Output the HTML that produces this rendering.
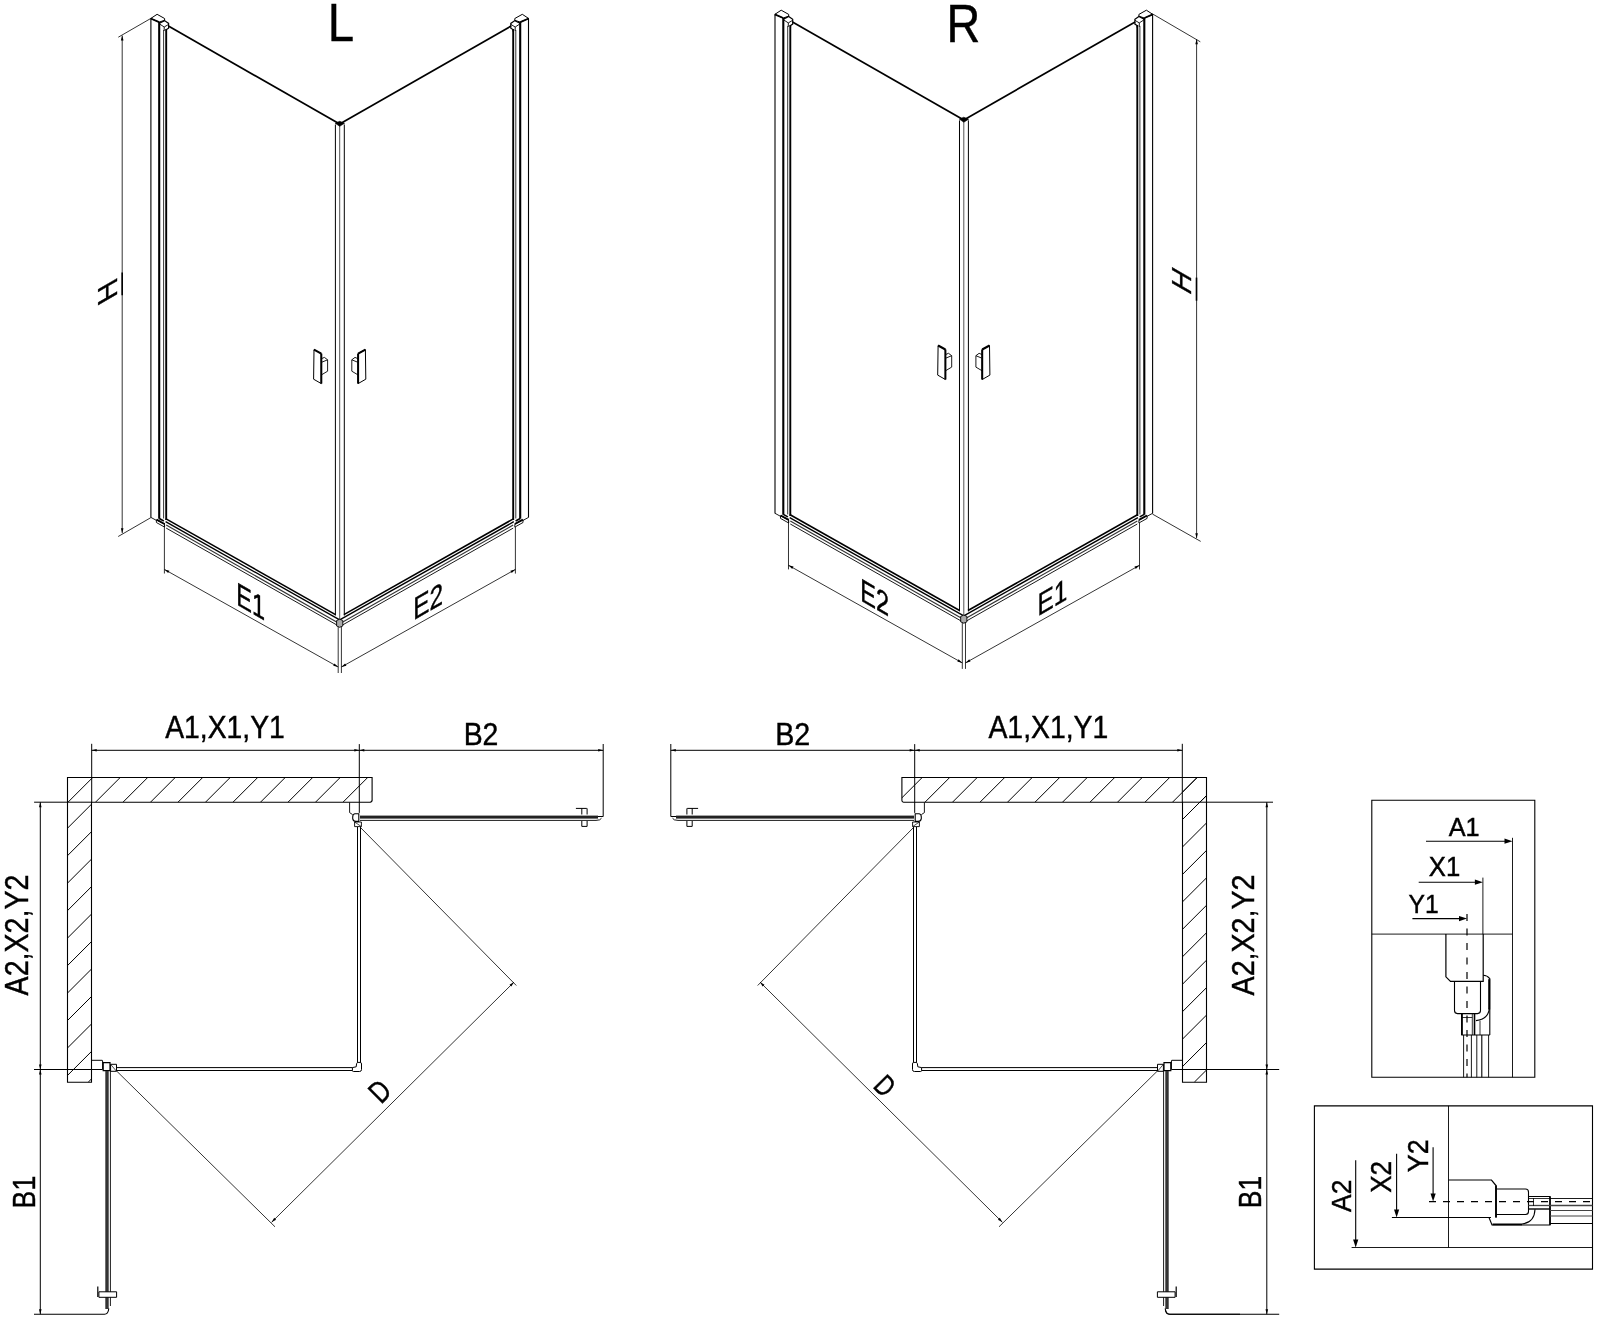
<!DOCTYPE html>
<html><head><meta charset="utf-8"><style>
html,body{margin:0;padding:0;background:#fff;}
svg{display:block;} text{filter:grayscale(1);}
</style></head><body>
<svg width="1600" height="1318" viewBox="0 0 1600 1318" stroke-linecap="butt">
<rect width="1600" height="1318" fill="#fff"/>
<g transform="translate(0,0)">
<line x1="150.9" y1="18.5" x2="150.9" y2="517.6" stroke="#000" stroke-width="1.1" />
<line x1="159.2" y1="22.1" x2="159.2" y2="518.8" stroke="#000" stroke-width="2.1" />
<line x1="163.6" y1="30" x2="163.6" y2="518.5" stroke="#000" stroke-width="0.8" />
<line x1="166.2" y1="29" x2="166.2" y2="520" stroke="#000" stroke-width="1.9" />
<path d="M150.7,18.5 L157.1,14.3 L164.6,18.5 L164.6,20.3 L159.1,22.1 Z" fill="none" stroke="#000" stroke-width="1.0" />
<line x1="150.7" y1="18.5" x2="159.1" y2="22.1" stroke="#000" stroke-width="1.7" />
<path d="M159.4,23.2 L164.6,20.6 L168.6,23.4 L168.6,28.2 L166.4,29.6 L166.4,31.5" fill="none" stroke="#000" stroke-width="1.2" />
<path d="M159.6,24 L164.2,27 L168.6,24.4 M164.2,27 L164.2,31" fill="none" stroke="#000" stroke-width="0.9" />
<line x1="150.9" y1="517.4" x2="156.4" y2="520.4" stroke="#000" stroke-width="0.9" />
<path d="M156.4,519.8 L164.6,524.3 L164.6,527.1 L156.4,522.5 Z" fill="none" stroke="#000" stroke-width="0.9" />
<line x1="156.6" y1="519.6" x2="164.6" y2="524" stroke="#000" stroke-width="1.8" />
<line x1="159.2" y1="518.5" x2="163.8" y2="521" stroke="#000" stroke-width="1.6" />
<g transform="matrix(-1,0,0,1,679.4,0)">
<line x1="150.9" y1="18.5" x2="150.9" y2="517.6" stroke="#000" stroke-width="1.1" />
<line x1="159.2" y1="22.1" x2="159.2" y2="518.8" stroke="#000" stroke-width="2.1" />
<line x1="163.6" y1="30" x2="163.6" y2="518.5" stroke="#000" stroke-width="0.8" />
<line x1="166.2" y1="29" x2="166.2" y2="520" stroke="#000" stroke-width="1.9" />
<path d="M150.7,18.5 L157.1,14.3 L164.6,18.5 L164.6,20.3 L159.1,22.1 Z" fill="none" stroke="#000" stroke-width="1.0" />
<line x1="150.7" y1="18.5" x2="159.1" y2="22.1" stroke="#000" stroke-width="1.7" />
<path d="M159.4,23.2 L164.6,20.6 L168.6,23.4 L168.6,28.2 L166.4,29.6 L166.4,31.5" fill="none" stroke="#000" stroke-width="1.2" />
<path d="M159.6,24 L164.2,27 L168.6,24.4 M164.2,27 L164.2,31" fill="none" stroke="#000" stroke-width="0.9" />
<line x1="150.9" y1="517.4" x2="156.4" y2="520.4" stroke="#000" stroke-width="0.9" />
<path d="M156.4,519.8 L164.6,524.3 L164.6,527.1 L156.4,522.5 Z" fill="none" stroke="#000" stroke-width="0.9" />
<line x1="156.6" y1="519.6" x2="164.6" y2="524" stroke="#000" stroke-width="1.8" />
<line x1="159.2" y1="518.5" x2="163.8" y2="521" stroke="#000" stroke-width="1.6" />
</g>
<line x1="168.4" y1="26.1" x2="339.7" y2="124" stroke="#000" stroke-width="1.7" />
<line x1="339.7" y1="124" x2="511" y2="26.1" stroke="#000" stroke-width="1.7" />
<line x1="335.4" y1="124.5" x2="335.4" y2="615.5" stroke="#000" stroke-width="1.0" />
<line x1="339.7" y1="125.5" x2="339.7" y2="619" stroke="#555" stroke-width="1.0" />
<line x1="344.3" y1="124.5" x2="344.3" y2="615.5" stroke="#000" stroke-width="1.0" />
<path d="M335.2,123.2 L339.7,121.3 L344.5,123.3 L339.7,126.3 Z" fill="#000" stroke="#000" stroke-width="0.6" />
<line x1="165.6" y1="518.6" x2="335.5" y2="614.6" stroke="#000" stroke-width="1.6" />
<line x1="165.6" y1="521.7" x2="339.7" y2="619.9" stroke="#000" stroke-width="1.4" />
<line x1="166.2" y1="525.1" x2="339.7" y2="623.7" stroke="#333" stroke-width="1.2" />
<line x1="166.2" y1="528.1" x2="339.7" y2="626.6" stroke="#000" stroke-width="0.9" />
<g transform="matrix(-1,0,0,1,679.4,0)">
<line x1="165.6" y1="518.6" x2="335.5" y2="614.6" stroke="#000" stroke-width="1.6" />
<line x1="165.6" y1="521.7" x2="339.7" y2="619.9" stroke="#000" stroke-width="1.4" />
<line x1="166.2" y1="525.1" x2="339.7" y2="623.7" stroke="#333" stroke-width="1.2" />
<line x1="166.2" y1="528.1" x2="339.7" y2="626.6" stroke="#000" stroke-width="0.9" />
</g>
<path d="M336.6,620.5 L339.7,619.2 L342.8,620.5 L342.8,626 L339.7,627.3 L336.6,626 Z" fill="#aaa" stroke="#000" stroke-width="0.9" />
<line x1="338.2" y1="627" x2="338.2" y2="673" stroke="#000" stroke-width="0.8" />
<line x1="341.4" y1="627" x2="341.4" y2="673" stroke="#000" stroke-width="0.8" />
<line x1="164.4" y1="523" x2="164.4" y2="573.5" stroke="#000" stroke-width="0.8" />
<line x1="515.4" y1="527" x2="515.4" y2="573.6" stroke="#000" stroke-width="0.8" />
<line x1="164.4" y1="569.4" x2="338.2" y2="667" stroke="#000" stroke-width="0.8" />
<path d="M164.4,569.4 L169.4,570.71 L168.12,572.98 Z" fill="#000" stroke="none"/>
<path d="M338.2,667 L333.2,665.69 L334.48,663.42 Z" fill="#000" stroke="none"/>
<line x1="341.4" y1="667" x2="515.4" y2="569.4" stroke="#000" stroke-width="0.8" />
<path d="M341.4,667 L345.12,663.42 L346.4,665.69 Z" fill="#000" stroke="none"/>
<path d="M515.4,569.4 L511.68,572.98 L510.4,570.71 Z" fill="#000" stroke="none"/>
<path d="M314,349.6 L321.3,353.6 L321.3,383.6 L313.6,379.2 Z" fill="none" stroke="#000" stroke-width="1.0" />
<line x1="314" y1="349.6" x2="321.3" y2="353.6" stroke="#000" stroke-width="2.0" />
<line x1="321.3" y1="353.6" x2="321.3" y2="383.6" stroke="#000" stroke-width="2.0" />
<path d="M321.6,358.6 L324.4,357.4 L327.6,359.8 L327.6,371.2 L321.4,374.9" fill="none" stroke="#000" stroke-width="0.9" />
<line x1="321.8" y1="362.2" x2="327.6" y2="359.8" stroke="#000" stroke-width="0.9" />
<g transform="matrix(-1,0,0,1,679.4,0)">
<path d="M314,349.6 L321.3,353.6 L321.3,383.6 L313.6,379.2 Z" fill="none" stroke="#000" stroke-width="1.0" />
<line x1="314" y1="349.6" x2="321.3" y2="353.6" stroke="#000" stroke-width="2.0" />
<line x1="321.3" y1="353.6" x2="321.3" y2="383.6" stroke="#000" stroke-width="2.0" />
<path d="M321.6,358.6 L324.4,357.4 L327.6,359.8 L327.6,371.2 L321.4,374.9" fill="none" stroke="#000" stroke-width="0.9" />
<line x1="321.8" y1="362.2" x2="327.6" y2="359.8" stroke="#000" stroke-width="0.9" />
</g>
<line x1="118.3" y1="37.2" x2="150.7" y2="18.5" stroke="#000" stroke-width="0.8" />
<line x1="118.2" y1="536.5" x2="150.9" y2="517.6" stroke="#000" stroke-width="0.8" />
<line x1="122.2" y1="35.6" x2="122.2" y2="533.2" stroke="#000" stroke-width="0.8" />
<path d="M122.2,35.6 L123.5,40.6 L120.9,40.6 Z" fill="#000" stroke="none"/>
<path d="M122.2,533.2 L120.9,528.2 L123.5,528.2 Z" fill="#000" stroke="none"/>
<line x1="122.2" y1="272.5" x2="122.2" y2="295.3" stroke="#000" stroke-width="1.6" />
</g>
<g transform="translate(624.1,-4.1)">
<line x1="150.9" y1="18.5" x2="150.9" y2="517.6" stroke="#000" stroke-width="1.1" />
<line x1="159.2" y1="22.1" x2="159.2" y2="518.8" stroke="#000" stroke-width="2.1" />
<line x1="163.6" y1="30" x2="163.6" y2="518.5" stroke="#000" stroke-width="0.8" />
<line x1="166.2" y1="29" x2="166.2" y2="520" stroke="#000" stroke-width="1.9" />
<path d="M150.7,18.5 L157.1,14.3 L164.6,18.5 L164.6,20.3 L159.1,22.1 Z" fill="none" stroke="#000" stroke-width="1.0" />
<line x1="150.7" y1="18.5" x2="159.1" y2="22.1" stroke="#000" stroke-width="1.7" />
<path d="M159.4,23.2 L164.6,20.6 L168.6,23.4 L168.6,28.2 L166.4,29.6 L166.4,31.5" fill="none" stroke="#000" stroke-width="1.2" />
<path d="M159.6,24 L164.2,27 L168.6,24.4 M164.2,27 L164.2,31" fill="none" stroke="#000" stroke-width="0.9" />
<line x1="150.9" y1="517.4" x2="156.4" y2="520.4" stroke="#000" stroke-width="0.9" />
<path d="M156.4,519.8 L164.6,524.3 L164.6,527.1 L156.4,522.5 Z" fill="none" stroke="#000" stroke-width="0.9" />
<line x1="156.6" y1="519.6" x2="164.6" y2="524" stroke="#000" stroke-width="1.8" />
<line x1="159.2" y1="518.5" x2="163.8" y2="521" stroke="#000" stroke-width="1.6" />
<g transform="matrix(-1,0,0,1,679.4,0)">
<line x1="150.9" y1="18.5" x2="150.9" y2="517.6" stroke="#000" stroke-width="1.1" />
<line x1="159.2" y1="22.1" x2="159.2" y2="518.8" stroke="#000" stroke-width="2.1" />
<line x1="163.6" y1="30" x2="163.6" y2="518.5" stroke="#000" stroke-width="0.8" />
<line x1="166.2" y1="29" x2="166.2" y2="520" stroke="#000" stroke-width="1.9" />
<path d="M150.7,18.5 L157.1,14.3 L164.6,18.5 L164.6,20.3 L159.1,22.1 Z" fill="none" stroke="#000" stroke-width="1.0" />
<line x1="150.7" y1="18.5" x2="159.1" y2="22.1" stroke="#000" stroke-width="1.7" />
<path d="M159.4,23.2 L164.6,20.6 L168.6,23.4 L168.6,28.2 L166.4,29.6 L166.4,31.5" fill="none" stroke="#000" stroke-width="1.2" />
<path d="M159.6,24 L164.2,27 L168.6,24.4 M164.2,27 L164.2,31" fill="none" stroke="#000" stroke-width="0.9" />
<line x1="150.9" y1="517.4" x2="156.4" y2="520.4" stroke="#000" stroke-width="0.9" />
<path d="M156.4,519.8 L164.6,524.3 L164.6,527.1 L156.4,522.5 Z" fill="none" stroke="#000" stroke-width="0.9" />
<line x1="156.6" y1="519.6" x2="164.6" y2="524" stroke="#000" stroke-width="1.8" />
<line x1="159.2" y1="518.5" x2="163.8" y2="521" stroke="#000" stroke-width="1.6" />
</g>
<line x1="168.4" y1="26.1" x2="339.7" y2="124" stroke="#000" stroke-width="1.7" />
<line x1="339.7" y1="124" x2="511" y2="26.1" stroke="#000" stroke-width="1.7" />
<line x1="335.4" y1="124.5" x2="335.4" y2="615.5" stroke="#000" stroke-width="1.0" />
<line x1="339.7" y1="125.5" x2="339.7" y2="619" stroke="#555" stroke-width="1.0" />
<line x1="344.3" y1="124.5" x2="344.3" y2="615.5" stroke="#000" stroke-width="1.0" />
<path d="M335.2,123.2 L339.7,121.3 L344.5,123.3 L339.7,126.3 Z" fill="#000" stroke="#000" stroke-width="0.6" />
<line x1="165.6" y1="518.6" x2="335.5" y2="614.6" stroke="#000" stroke-width="1.6" />
<line x1="165.6" y1="521.7" x2="339.7" y2="619.9" stroke="#000" stroke-width="1.4" />
<line x1="166.2" y1="525.1" x2="339.7" y2="623.7" stroke="#333" stroke-width="1.2" />
<line x1="166.2" y1="528.1" x2="339.7" y2="626.6" stroke="#000" stroke-width="0.9" />
<g transform="matrix(-1,0,0,1,679.4,0)">
<line x1="165.6" y1="518.6" x2="335.5" y2="614.6" stroke="#000" stroke-width="1.6" />
<line x1="165.6" y1="521.7" x2="339.7" y2="619.9" stroke="#000" stroke-width="1.4" />
<line x1="166.2" y1="525.1" x2="339.7" y2="623.7" stroke="#333" stroke-width="1.2" />
<line x1="166.2" y1="528.1" x2="339.7" y2="626.6" stroke="#000" stroke-width="0.9" />
</g>
<path d="M336.6,620.5 L339.7,619.2 L342.8,620.5 L342.8,626 L339.7,627.3 L336.6,626 Z" fill="#aaa" stroke="#000" stroke-width="0.9" />
<line x1="338.2" y1="627" x2="338.2" y2="673" stroke="#000" stroke-width="0.8" />
<line x1="341.4" y1="627" x2="341.4" y2="673" stroke="#000" stroke-width="0.8" />
<line x1="164.4" y1="523" x2="164.4" y2="573.5" stroke="#000" stroke-width="0.8" />
<line x1="515.4" y1="527" x2="515.4" y2="573.6" stroke="#000" stroke-width="0.8" />
<line x1="164.4" y1="569.4" x2="338.2" y2="667" stroke="#000" stroke-width="0.8" />
<path d="M164.4,569.4 L169.4,570.71 L168.12,572.98 Z" fill="#000" stroke="none"/>
<path d="M338.2,667 L333.2,665.69 L334.48,663.42 Z" fill="#000" stroke="none"/>
<line x1="341.4" y1="667" x2="515.4" y2="569.4" stroke="#000" stroke-width="0.8" />
<path d="M341.4,667 L345.12,663.42 L346.4,665.69 Z" fill="#000" stroke="none"/>
<path d="M515.4,569.4 L511.68,572.98 L510.4,570.71 Z" fill="#000" stroke="none"/>
<path d="M314,349.6 L321.3,353.6 L321.3,383.6 L313.6,379.2 Z" fill="none" stroke="#000" stroke-width="1.0" />
<line x1="314" y1="349.6" x2="321.3" y2="353.6" stroke="#000" stroke-width="2.0" />
<line x1="321.3" y1="353.6" x2="321.3" y2="383.6" stroke="#000" stroke-width="2.0" />
<path d="M321.6,358.6 L324.4,357.4 L327.6,359.8 L327.6,371.2 L321.4,374.9" fill="none" stroke="#000" stroke-width="0.9" />
<line x1="321.8" y1="362.2" x2="327.6" y2="359.8" stroke="#000" stroke-width="0.9" />
<g transform="matrix(-1,0,0,1,679.4,0)">
<path d="M314,349.6 L321.3,353.6 L321.3,383.6 L313.6,379.2 Z" fill="none" stroke="#000" stroke-width="1.0" />
<line x1="314" y1="349.6" x2="321.3" y2="353.6" stroke="#000" stroke-width="2.0" />
<line x1="321.3" y1="353.6" x2="321.3" y2="383.6" stroke="#000" stroke-width="2.0" />
<path d="M321.6,358.6 L324.4,357.4 L327.6,359.8 L327.6,371.2 L321.4,374.9" fill="none" stroke="#000" stroke-width="0.9" />
<line x1="321.8" y1="362.2" x2="327.6" y2="359.8" stroke="#000" stroke-width="0.9" />
</g>
<line x1="528.4" y1="18" x2="576.2" y2="45.9" stroke="#000" stroke-width="0.8" />
<line x1="528.4" y1="518.2" x2="576.6" y2="545.5" stroke="#000" stroke-width="0.8" />
<line x1="572.5" y1="43.4" x2="572.5" y2="542.3" stroke="#000" stroke-width="0.8" />
<path d="M572.5,43.4 L573.8,48.4 L571.2,48.4 Z" fill="#000" stroke="none"/>
<path d="M572.5,542.3 L571.2,537.3 L573.8,537.3 Z" fill="#000" stroke="none"/>
<line x1="572.4" y1="281.7" x2="572.4" y2="304.8" stroke="#000" stroke-width="1.6" />
</g>
<path d="M67.5,777.5 H372.1 V800.6 Q372.1,802.2 370.5,802.2 H91.5 V1082.2 H67.5 Z" fill="none" stroke="#000" stroke-width="1.1" />
<path d="M349.6,802.4 V812.6 L352.6,814.6" fill="none" stroke="#000" stroke-width="0.9" />
<path d="M358.8,813.8 H354.8 Q352.7,814.2 352.7,817 V818.6 Q353.2,821.4 355.8,821.4 H358.8 Z" fill="none" stroke="#000" stroke-width="1.1" />
<path d="M354.6,822 H361.4 V826.6 H354.6 Z" fill="none" stroke="#000" stroke-width="0.9" />
<line x1="354.6" y1="822" x2="361.4" y2="826.6" stroke="#000" stroke-width="0.7" />
<rect x="360" y="815.6" width="238" height="3.0" fill="#222"/>
<path d="M360,820.4 H596 Q600.5,820.4 601.5,818.2" fill="none" stroke="#000" stroke-width="0.9" />
<path d="M598,816.5 L603.2,816.5" fill="none" stroke="#000" stroke-width="1.0" />
<path d="M575.9,808.4 H586.8 M581.8,808.4 V814.5 M587.1,808.4 V814.5 M581.8,821 V826.4 H587.1 V821" fill="none" stroke="#000" stroke-width="1.0" />
<line x1="357.5" y1="827" x2="357.5" y2="1062.4" stroke="#000" stroke-width="1.0" />
<line x1="360.5" y1="827" x2="360.5" y2="1062.4" stroke="#000" stroke-width="1.0" />
<path d="M352.4,1067.6 L356.2,1066.8 L356.6,1063.6 Q357,1062.4 358,1062.4 H360.2 Q361.5,1062.4 361.5,1064 V1069.6 Q361.5,1071.5 359.6,1071.5 H353.4 Q352.4,1071.5 352.4,1070.5 Z" fill="none" stroke="#000" stroke-width="1.0" />
<line x1="116.5" y1="1067.6" x2="352.4" y2="1067.6" stroke="#000" stroke-width="1.0" />
<line x1="116.5" y1="1070.5" x2="352.4" y2="1070.5" stroke="#000" stroke-width="1.0" />
<path d="M91.6,1060.3 H102.2 Q102.6,1060.3 102.6,1061 V1069.5" fill="none" stroke="#000" stroke-width="1.0" />
<path d="M103.2,1062.6 H110 V1070.6 H103.2 Z" fill="none" stroke="#000" stroke-width="1.2" />
<path d="M110.6,1064.3 H116.5 V1071.3 H110.6 Z" fill="none" stroke="#000" stroke-width="1.0" />
<line x1="110.6" y1="1064.3" x2="116.5" y2="1071.3" stroke="#000" stroke-width="0.7" />
<rect x="105.3" y="1071" width="3.4" height="238" fill="#333"/>
<line x1="110.4" y1="1071" x2="110.4" y2="1306" stroke="#000" stroke-width="0.9" />
<path d="M98.9,1291.8 H116.6 V1297.3 H98.9 Z" fill="#fff" stroke="#000" stroke-width="1.0" />
<line x1="97.8" y1="1286.4" x2="97.8" y2="1297" stroke="#000" stroke-width="1.2" />
<path d="M34,1314.2 H104.5 Q108.2,1314.2 108.8,1308.5" fill="none" stroke="#000" stroke-width="1.1" />
<line x1="360.5" y1="827.5" x2="516.3" y2="985.5" stroke="#000" stroke-width="0.8" />
<line x1="116.8" y1="1071.2" x2="275" y2="1226.8" stroke="#000" stroke-width="0.8" />
<line x1="271.6" y1="1222.3" x2="514" y2="982.1" stroke="#000" stroke-width="0.8" />
<path d="M271.6,1222.3 L274.24,1217.86 L276.07,1219.7 Z" fill="#000" stroke="none"/>
<path d="M514,982.1 L511.36,986.54 L509.53,984.7 Z" fill="#000" stroke="none"/>
<line x1="91.7" y1="743.8" x2="91.7" y2="802.2" stroke="#000" stroke-width="1.0" />
<line x1="359.3" y1="744.1" x2="359.3" y2="812.9" stroke="#000" stroke-width="1.0" />
<line x1="603.2" y1="744" x2="603.2" y2="816.5" stroke="#000" stroke-width="1.0" />
<line x1="91.7" y1="750.3" x2="359.3" y2="750.3" stroke="#000" stroke-width="1.0" />
<path d="M91.7,750.3 L96.7,749 L96.7,751.6 Z" fill="#000" stroke="none"/>
<path d="M359.3,750.3 L354.3,751.6 L354.3,749 Z" fill="#000" stroke="none"/>
<line x1="359.3" y1="750.3" x2="603.2" y2="750.3" stroke="#000" stroke-width="1.0" />
<path d="M359.3,750.3 L364.3,749 L364.3,751.6 Z" fill="#000" stroke="none"/>
<path d="M603.2,750.3 L598.2,751.6 L598.2,749 Z" fill="#000" stroke="none"/>
<line x1="34.1" y1="802.2" x2="91.5" y2="802.2" stroke="#000" stroke-width="1.0" />
<line x1="34" y1="1069.5" x2="102.6" y2="1069.5" stroke="#000" stroke-width="1.0" />
<line x1="40.3" y1="802.2" x2="40.3" y2="1069.5" stroke="#000" stroke-width="1.0" />
<path d="M40.3,802.2 L41.6,807.2 L39,807.2 Z" fill="#000" stroke="none"/>
<path d="M40.3,1069.5 L39,1064.5 L41.6,1064.5 Z" fill="#000" stroke="none"/>
<line x1="40.3" y1="1069.5" x2="40.3" y2="1314.2" stroke="#000" stroke-width="1.0" />
<path d="M40.3,1069.5 L41.6,1074.5 L39,1074.5 Z" fill="#000" stroke="none"/>
<path d="M40.3,1314.2 L39,1309.2 L41.6,1309.2 Z" fill="#000" stroke="none"/>
<clipPath id="h1"><rect x="67.5" y="777.5" width="304.6" height="24.7"/></clipPath>
<g clip-path="url(#h1)">
<line x1="68" y1="802.2" x2="92.7" y2="777.5" stroke="#000" stroke-width="1.0" />
<line x1="95.5" y1="802.2" x2="120.2" y2="777.5" stroke="#000" stroke-width="1.0" />
<line x1="123" y1="802.2" x2="147.7" y2="777.5" stroke="#000" stroke-width="1.0" />
<line x1="150.5" y1="802.2" x2="175.2" y2="777.5" stroke="#000" stroke-width="1.0" />
<line x1="178" y1="802.2" x2="202.7" y2="777.5" stroke="#000" stroke-width="1.0" />
<line x1="205.5" y1="802.2" x2="230.2" y2="777.5" stroke="#000" stroke-width="1.0" />
<line x1="233" y1="802.2" x2="257.7" y2="777.5" stroke="#000" stroke-width="1.0" />
<line x1="260.5" y1="802.2" x2="285.2" y2="777.5" stroke="#000" stroke-width="1.0" />
<line x1="288" y1="802.2" x2="312.7" y2="777.5" stroke="#000" stroke-width="1.0" />
<line x1="315.5" y1="802.2" x2="340.2" y2="777.5" stroke="#000" stroke-width="1.0" />
<line x1="343" y1="802.2" x2="367.7" y2="777.5" stroke="#000" stroke-width="1.0" />
<line x1="370.5" y1="802.2" x2="395.2" y2="777.5" stroke="#000" stroke-width="1.0" />
<line x1="398" y1="802.2" x2="422.7" y2="777.5" stroke="#000" stroke-width="1.0" />
</g>
<clipPath id="h2"><rect x="67.5" y="802.2" width="24" height="280"/></clipPath>
<g clip-path="url(#h2)">
<line x1="-186.5" y1="1082.2" x2="93.5" y2="802.2" stroke="#000" stroke-width="1.0" />
<line x1="-159.03" y1="1082.2" x2="120.97" y2="802.2" stroke="#000" stroke-width="1.0" />
<line x1="-131.56" y1="1082.2" x2="148.44" y2="802.2" stroke="#000" stroke-width="1.0" />
<line x1="-104.09" y1="1082.2" x2="175.91" y2="802.2" stroke="#000" stroke-width="1.0" />
<line x1="-76.62" y1="1082.2" x2="203.38" y2="802.2" stroke="#000" stroke-width="1.0" />
<line x1="-49.15" y1="1082.2" x2="230.85" y2="802.2" stroke="#000" stroke-width="1.0" />
<line x1="-21.68" y1="1082.2" x2="258.32" y2="802.2" stroke="#000" stroke-width="1.0" />
<line x1="5.79" y1="1082.2" x2="285.79" y2="802.2" stroke="#000" stroke-width="1.0" />
<line x1="33.26" y1="1082.2" x2="313.26" y2="802.2" stroke="#000" stroke-width="1.0" />
<line x1="60.73" y1="1082.2" x2="340.73" y2="802.2" stroke="#000" stroke-width="1.0" />
<line x1="88.2" y1="1082.2" x2="368.2" y2="802.2" stroke="#000" stroke-width="1.0" />
<line x1="115.67" y1="1082.2" x2="395.67" y2="802.2" stroke="#000" stroke-width="1.0" />
</g>
<g transform="matrix(-1,0,0,1,1274.0,0)">
<path d="M67.5,777.5 H372.1 V800.6 Q372.1,802.2 370.5,802.2 H91.5 V1082.2 H67.5 Z" fill="none" stroke="#000" stroke-width="1.1" />
<path d="M349.6,802.4 V812.6 L352.6,814.6" fill="none" stroke="#000" stroke-width="0.9" />
<path d="M358.8,813.8 H354.8 Q352.7,814.2 352.7,817 V818.6 Q353.2,821.4 355.8,821.4 H358.8 Z" fill="none" stroke="#000" stroke-width="1.1" />
<path d="M354.6,822 H361.4 V826.6 H354.6 Z" fill="none" stroke="#000" stroke-width="0.9" />
<line x1="354.6" y1="822" x2="361.4" y2="826.6" stroke="#000" stroke-width="0.7" />
<rect x="360" y="815.6" width="238" height="3.0" fill="#222"/>
<path d="M360,820.4 H596 Q600.5,820.4 601.5,818.2" fill="none" stroke="#000" stroke-width="0.9" />
<path d="M598,816.5 L603.2,816.5" fill="none" stroke="#000" stroke-width="1.0" />
<path d="M575.9,808.4 H586.8 M581.8,808.4 V814.5 M587.1,808.4 V814.5 M581.8,821 V826.4 H587.1 V821" fill="none" stroke="#000" stroke-width="1.0" />
<line x1="357.5" y1="827" x2="357.5" y2="1062.4" stroke="#000" stroke-width="1.0" />
<line x1="360.5" y1="827" x2="360.5" y2="1062.4" stroke="#000" stroke-width="1.0" />
<path d="M352.4,1067.6 L356.2,1066.8 L356.6,1063.6 Q357,1062.4 358,1062.4 H360.2 Q361.5,1062.4 361.5,1064 V1069.6 Q361.5,1071.5 359.6,1071.5 H353.4 Q352.4,1071.5 352.4,1070.5 Z" fill="none" stroke="#000" stroke-width="1.0" />
<line x1="116.5" y1="1067.6" x2="352.4" y2="1067.6" stroke="#000" stroke-width="1.0" />
<line x1="116.5" y1="1070.5" x2="352.4" y2="1070.5" stroke="#000" stroke-width="1.0" />
<path d="M91.6,1060.3 H102.2 Q102.6,1060.3 102.6,1061 V1069.5" fill="none" stroke="#000" stroke-width="1.0" />
<path d="M103.2,1062.6 H110 V1070.6 H103.2 Z" fill="none" stroke="#000" stroke-width="1.2" />
<path d="M110.6,1064.3 H116.5 V1071.3 H110.6 Z" fill="none" stroke="#000" stroke-width="1.0" />
<line x1="110.6" y1="1064.3" x2="116.5" y2="1071.3" stroke="#000" stroke-width="0.7" />
<rect x="105.3" y="1071" width="3.4" height="238" fill="#333"/>
<line x1="110.4" y1="1071" x2="110.4" y2="1306" stroke="#000" stroke-width="0.9" />
<path d="M98.9,1291.8 H116.6 V1297.3 H98.9 Z" fill="#fff" stroke="#000" stroke-width="1.0" />
<line x1="97.8" y1="1286.4" x2="97.8" y2="1297" stroke="#000" stroke-width="1.2" />
<path d="M34,1314.2 H104.5 Q108.2,1314.2 108.8,1308.5" fill="none" stroke="#000" stroke-width="1.1" />
<line x1="360.5" y1="827.5" x2="516.3" y2="985.5" stroke="#000" stroke-width="0.8" />
<line x1="116.8" y1="1071.2" x2="275" y2="1226.8" stroke="#000" stroke-width="0.8" />
<line x1="271.6" y1="1222.3" x2="514" y2="982.1" stroke="#000" stroke-width="0.8" />
<path d="M271.6,1222.3 L274.24,1217.86 L276.07,1219.7 Z" fill="#000" stroke="none"/>
<path d="M514,982.1 L511.36,986.54 L509.53,984.7 Z" fill="#000" stroke="none"/>
<line x1="91.7" y1="743.8" x2="91.7" y2="802.2" stroke="#000" stroke-width="1.0" />
<line x1="359.3" y1="744.1" x2="359.3" y2="812.9" stroke="#000" stroke-width="1.0" />
<line x1="603.2" y1="744" x2="603.2" y2="816.5" stroke="#000" stroke-width="1.0" />
<line x1="91.7" y1="750.3" x2="359.3" y2="750.3" stroke="#000" stroke-width="1.0" />
<path d="M91.7,750.3 L96.7,749 L96.7,751.6 Z" fill="#000" stroke="none"/>
<path d="M359.3,750.3 L354.3,751.6 L354.3,749 Z" fill="#000" stroke="none"/>
<line x1="359.3" y1="750.3" x2="603.2" y2="750.3" stroke="#000" stroke-width="1.0" />
<path d="M359.3,750.3 L364.3,749 L364.3,751.6 Z" fill="#000" stroke="none"/>
<path d="M603.2,750.3 L598.2,751.6 L598.2,749 Z" fill="#000" stroke="none"/>
</g>
<line x1="1182.5" y1="802.2" x2="1273" y2="802.2" stroke="#000" stroke-width="1.0" />
<line x1="1171.4" y1="1069.5" x2="1279.2" y2="1069.5" stroke="#000" stroke-width="1.0" />
<path d="M1279.2,1314.2 H1170 Q1166.2,1314.2 1165.4,1309.8" fill="none" stroke="#000" stroke-width="1.1" />
<line x1="1266.8" y1="802.2" x2="1266.8" y2="1069.5" stroke="#000" stroke-width="1.0" />
<path d="M1266.8,802.2 L1268.1,807.2 L1265.5,807.2 Z" fill="#000" stroke="none"/>
<path d="M1266.8,1069.5 L1265.5,1064.5 L1268.1,1064.5 Z" fill="#000" stroke="none"/>
<line x1="1266.8" y1="1069.5" x2="1266.8" y2="1314.2" stroke="#000" stroke-width="1.0" />
<path d="M1266.8,1069.5 L1268.1,1074.5 L1265.5,1074.5 Z" fill="#000" stroke="none"/>
<path d="M1266.8,1314.2 L1265.5,1309.2 L1268.1,1309.2 Z" fill="#000" stroke="none"/>
<clipPath id="h3"><rect x="901.9" y="777.5" width="304.6" height="24.7"/></clipPath>
<g clip-path="url(#h3)">
<line x1="897.5" y1="802.2" x2="922.2" y2="777.5" stroke="#000" stroke-width="1.0" />
<line x1="925" y1="802.2" x2="949.7" y2="777.5" stroke="#000" stroke-width="1.0" />
<line x1="952.5" y1="802.2" x2="977.2" y2="777.5" stroke="#000" stroke-width="1.0" />
<line x1="980" y1="802.2" x2="1004.7" y2="777.5" stroke="#000" stroke-width="1.0" />
<line x1="1007.5" y1="802.2" x2="1032.2" y2="777.5" stroke="#000" stroke-width="1.0" />
<line x1="1035" y1="802.2" x2="1059.7" y2="777.5" stroke="#000" stroke-width="1.0" />
<line x1="1062.5" y1="802.2" x2="1087.2" y2="777.5" stroke="#000" stroke-width="1.0" />
<line x1="1090" y1="802.2" x2="1114.7" y2="777.5" stroke="#000" stroke-width="1.0" />
<line x1="1117.5" y1="802.2" x2="1142.2" y2="777.5" stroke="#000" stroke-width="1.0" />
<line x1="1145" y1="802.2" x2="1169.7" y2="777.5" stroke="#000" stroke-width="1.0" />
<line x1="1172.5" y1="802.2" x2="1197.2" y2="777.5" stroke="#000" stroke-width="1.0" />
<line x1="1200" y1="802.2" x2="1224.7" y2="777.5" stroke="#000" stroke-width="1.0" />
<line x1="1227.5" y1="802.2" x2="1252.2" y2="777.5" stroke="#000" stroke-width="1.0" />
</g>
<clipPath id="h4"><rect x="1182.5" y="777.5" width="24" height="304.7"/></clipPath>
<g clip-path="url(#h4)">
<line x1="892.35" y1="1082.2" x2="1197.05" y2="777.5" stroke="#000" stroke-width="1.0" />
<line x1="919.8" y1="1082.2" x2="1224.5" y2="777.5" stroke="#000" stroke-width="1.0" />
<line x1="947.25" y1="1082.2" x2="1251.95" y2="777.5" stroke="#000" stroke-width="1.0" />
<line x1="974.7" y1="1082.2" x2="1279.4" y2="777.5" stroke="#000" stroke-width="1.0" />
<line x1="1002.15" y1="1082.2" x2="1306.85" y2="777.5" stroke="#000" stroke-width="1.0" />
<line x1="1029.6" y1="1082.2" x2="1334.3" y2="777.5" stroke="#000" stroke-width="1.0" />
<line x1="1057.05" y1="1082.2" x2="1361.75" y2="777.5" stroke="#000" stroke-width="1.0" />
<line x1="1084.5" y1="1082.2" x2="1389.2" y2="777.5" stroke="#000" stroke-width="1.0" />
<line x1="1111.95" y1="1082.2" x2="1416.65" y2="777.5" stroke="#000" stroke-width="1.0" />
<line x1="1139.4" y1="1082.2" x2="1444.1" y2="777.5" stroke="#000" stroke-width="1.0" />
<line x1="1166.85" y1="1082.2" x2="1471.55" y2="777.5" stroke="#000" stroke-width="1.0" />
<line x1="1194.3" y1="1082.2" x2="1499" y2="777.5" stroke="#000" stroke-width="1.0" />
<line x1="1221.75" y1="1082.2" x2="1526.45" y2="777.5" stroke="#000" stroke-width="1.0" />
</g>
<path d="M1371.8,800.2 H1534.8 V1077.3 H1371.8 Z" fill="none" stroke="#000" stroke-width="1.1" />
<line x1="1371.8" y1="934.1" x2="1512.5" y2="934.1" stroke="#000" stroke-width="0.9" />
<line x1="1512.5" y1="837.8" x2="1512.5" y2="1077.3" stroke="#000" stroke-width="0.9" />
<line x1="1426" y1="841.2" x2="1507" y2="841.2" stroke="#000" stroke-width="1.1" />
<path d="M1512.5,841.2 L1504.5,843.8 L1504.5,838.6 Z" fill="#000" stroke="none"/>
<line x1="1482.9" y1="877.6" x2="1482.9" y2="934.1" stroke="#000" stroke-width="0.9" />
<line x1="1418.7" y1="882.2" x2="1477" y2="882.2" stroke="#000" stroke-width="1.1" />
<path d="M1482.9,882.2 L1474.9,884.8 L1474.9,879.6 Z" fill="#000" stroke="none"/>
<line x1="1467" y1="914" x2="1467" y2="1077.3" stroke="#000" stroke-width="1.2" stroke-dasharray="7,7.5"/>
<line x1="1412.4" y1="918.6" x2="1461" y2="918.6" stroke="#000" stroke-width="1.1" />
<path d="M1467,918.6 L1459,921.2 L1459,916 Z" fill="#000" stroke="none"/>
<path d="M1445.9,934.1 V976.8 L1450.5,981.4 H1483.2 V934.1" fill="none" stroke="#000" stroke-width="1.2" />
<path d="M1454.5,981.4 V1010.6 Q1454.5,1013.6 1457.5,1013.6 H1477.5 Q1480.5,1013.6 1480.5,1010.6 V981.4" fill="none" stroke="#000" stroke-width="1.1" />
<path d="M1483.2,975.3 Q1487.2,975.3 1489.8,978.6 V1035" fill="none" stroke="#000" stroke-width="1.1" />
<line x1="1489.2" y1="979.2" x2="1489.2" y2="1009.5" stroke="#000" stroke-width="2.0" />
<path d="M1489.5,1007.5 Q1488.5,1019.5 1475.9,1020.6" fill="none" stroke="#000" stroke-width="1.1" />
<path d="M1461.8,1013.6 V1035 H1489.8" fill="none" stroke="#000" stroke-width="1.1" />
<line x1="1461.9" y1="1013.6" x2="1461.9" y2="1035" stroke="#000" stroke-width="1.8" />
<line x1="1474.5" y1="1013.6" x2="1474.5" y2="1035" stroke="#000" stroke-width="1.6" />
<line x1="1472.3" y1="1013.6" x2="1472.3" y2="1035" stroke="#000" stroke-width="0.8" />
<line x1="1480" y1="1020.6" x2="1480" y2="1035" stroke="#000" stroke-width="0.8" />
<line x1="1461.8" y1="1017.5" x2="1472.3" y2="1017.5" stroke="#000" stroke-width="0.8" />
<line x1="1463.6" y1="1035" x2="1463.6" y2="1077.3" stroke="#000" stroke-width="0.9" />
<line x1="1471.4" y1="1035" x2="1471.4" y2="1077.3" stroke="#000" stroke-width="0.9" />
<line x1="1476.8" y1="1035" x2="1476.8" y2="1077.3" stroke="#000" stroke-width="0.9" />
<line x1="1481.8" y1="1035" x2="1481.8" y2="1077.3" stroke="#000" stroke-width="1.1" />
<line x1="1488.6" y1="1035" x2="1488.6" y2="1077.3" stroke="#000" stroke-width="0.9" />
<path d="M1314.4,1105.9 H1592.5 V1269.1 H1314.4 Z" fill="none" stroke="#000" stroke-width="1.1" />
<line x1="1448.5" y1="1105.9" x2="1448.5" y2="1247.5" stroke="#000" stroke-width="0.9" />
<line x1="1351.6" y1="1247.5" x2="1592.5" y2="1247.5" stroke="#000" stroke-width="0.9" />
<line x1="1355.7" y1="1160.3" x2="1355.7" y2="1240" stroke="#000" stroke-width="1.1" />
<path d="M1355.7,1247.5 L1353.1,1239.5 L1358.3,1239.5 Z" fill="#000" stroke="none"/>
<line x1="1396.6" y1="1153.8" x2="1396.6" y2="1210" stroke="#000" stroke-width="1.1" />
<path d="M1396.6,1217.5 L1394,1209.5 L1399.2,1209.5 Z" fill="#000" stroke="none"/>
<line x1="1391.9" y1="1217.5" x2="1491" y2="1217.5" stroke="#000" stroke-width="1.0" />
<line x1="1433.1" y1="1147.2" x2="1433.1" y2="1194" stroke="#000" stroke-width="1.1" />
<path d="M1433.1,1201.6 L1430.5,1193.6 L1435.7,1193.6 Z" fill="#000" stroke="none"/>
<line x1="1429" y1="1201.6" x2="1592.5" y2="1201.6" stroke="#000" stroke-width="1.2" stroke-dasharray="7,7"/>
<path d="M1448.5,1180 H1491.5 L1496,1185.5 V1217.5" fill="none" stroke="#000" stroke-width="1.2" />
<line x1="1496" y1="1185.5" x2="1496" y2="1217.5" stroke="#000" stroke-width="1.8" />
<path d="M1496,1189 H1525.5 Q1528.5,1189 1528.5,1192 V1211.5 Q1528.5,1214.5 1525.5,1214.5 H1496" fill="none" stroke="#000" stroke-width="1.1" />
<path d="M1528.5,1196.5 H1550 V1225 H1492 L1489,1217.5" fill="none" stroke="#000" stroke-width="1.1" />
<line x1="1550" y1="1196.5" x2="1550" y2="1225" stroke="#000" stroke-width="1.6" />
<line x1="1492.5" y1="1224.4" x2="1522" y2="1224.4" stroke="#000" stroke-width="1.8" />
<line x1="1528.5" y1="1198.5" x2="1550" y2="1198.5" stroke="#000" stroke-width="0.8" />
<line x1="1528.5" y1="1205.5" x2="1550" y2="1205.5" stroke="#444" stroke-width="1.3" />
<line x1="1528.5" y1="1209" x2="1550" y2="1209" stroke="#000" stroke-width="1.4" />
<line x1="1533.5" y1="1198" x2="1533.5" y2="1206" stroke="#000" stroke-width="0.8" />
<path d="M1535,1209.2 Q1534.5,1222.5 1522,1224" fill="none" stroke="#000" stroke-width="1.1" />
<line x1="1550" y1="1198.5" x2="1592.5" y2="1198.5" stroke="#000" stroke-width="0.9" />
<line x1="1550" y1="1205.5" x2="1592.5" y2="1205.5" stroke="#444" stroke-width="1.3" />
<line x1="1550" y1="1210.5" x2="1592.5" y2="1210.5" stroke="#444" stroke-width="1.1" />
<line x1="1550" y1="1216" x2="1592.5" y2="1216" stroke="#444" stroke-width="1.1" />
<line x1="1550" y1="1223.5" x2="1592.5" y2="1223.5" stroke="#000" stroke-width="1.0" />
<text x="0" y="0" font-family="Liberation Sans" font-size="54.07" stroke="#000" stroke-width="0.45" transform="matrix(0.8767,0.0000,0.0000,1.0000,327.7116,41.3000)">L</text>
<text x="0" y="0" font-family="Liberation Sans" font-size="53.63" stroke="#000" stroke-width="0.45" transform="matrix(0.8730,0.0000,0.0000,1.0000,946.4592,41.9000)">R</text>
<text x="0" y="0" font-family="Liberation Sans" font-size="31.40" stroke="#000" stroke-width="0.45" transform="matrix(0.9011,0.0000,0.0000,1.0000,165.2447,737.7000)">A1,X1,Y1</text>
<text x="0" y="0" font-family="Liberation Sans" font-size="31.98" stroke="#000" stroke-width="0.45" transform="matrix(0.8878,0.0000,0.0000,1.0000,988.4446,738.2000)">A1,X1,Y1</text>
<text x="0" y="0" font-family="Liberation Sans" font-size="31.98" stroke="#000" stroke-width="0.45" transform="matrix(0.8887,0.0000,0.0000,1.0000,463.6688,744.7500)">B2</text>
<text x="0" y="0" font-family="Liberation Sans" font-size="31.98" stroke="#000" stroke-width="0.45" transform="matrix(0.8959,0.0000,0.0000,1.0000,775.1500,744.5000)">B2</text>
<text x="0" y="0" font-family="Liberation Sans" font-size="32.41" stroke="#000" stroke-width="0.45" transform="matrix(0.0000,-0.8835,1.0000,0.0000,28.1000,995.4559)">A2,X2,Y2</text>
<text x="0" y="0" font-family="Liberation Sans" font-size="31.69" stroke="#000" stroke-width="0.45" transform="matrix(0.0000,-0.9038,1.0000,0.0000,1254.0000,995.4559)">A2,X2,Y2</text>
<text x="0" y="0" font-family="Liberation Sans" font-size="31.69" stroke="#000" stroke-width="0.45" transform="matrix(0.0000,-0.8408,1.0000,0.0000,34.8000,1208.3854)">B1</text>
<text x="0" y="0" font-family="Liberation Sans" font-size="31.40" stroke="#000" stroke-width="0.45" transform="matrix(0.0000,-0.8427,1.0000,0.0000,1260.7000,1208.1704)">B1</text>
<text x="0" y="0" font-family="Liberation Sans" font-size="30.38" stroke="#000" stroke-width="0.45" transform="matrix(0.5580,-0.5580,0.7071,0.7071,380.9094,1104.6906)">D</text>
<text x="0" y="0" font-family="Liberation Sans" font-size="29.07" stroke="#000" stroke-width="0.45" transform="matrix(0.5544,0.5544,-0.7071,0.7071,871.8779,1087.0779)">D</text>
<text x="0" y="0" font-family="Liberation Sans" font-size="31.69" stroke="#000" stroke-width="0.45" transform="matrix(0.0000,-0.8927,0.8660,-0.5000,117.2000,296.6203)">H</text>
<text x="0" y="0" font-family="Liberation Sans" font-size="31.69" stroke="#000" stroke-width="0.45" transform="matrix(0.0000,-0.8927,0.8660,0.5000,1191.0000,296.3203)">H</text>
<text x="0" y="0" font-family="Liberation Sans" font-size="32.27" stroke="#000" stroke-width="0.45" transform="matrix(0.7273,0.4199,0.0000,1.0000,236.2749,604.2885)">E1</text>
<text x="0" y="0" font-family="Liberation Sans" font-size="31.40" stroke="#000" stroke-width="0.45" transform="matrix(0.7763,-0.4482,0.0000,1.0000,413.3007,620.5543)">E2</text>
<text x="0" y="0" font-family="Liberation Sans" font-size="32.27" stroke="#000" stroke-width="0.45" transform="matrix(0.7283,0.4205,0.0000,1.0000,860.3723,600.1870)">E2</text>
<text x="0" y="0" font-family="Liberation Sans" font-size="31.40" stroke="#000" stroke-width="0.45" transform="matrix(0.7753,-0.4476,0.0000,1.0000,1037.4034,616.4528)">E1</text>
<text x="0" y="0" font-family="Liberation Sans" font-size="26.45" stroke="#000" stroke-width="0.45" transform="matrix(0.9544,0.0000,0.0000,1.0000,1448.7507,835.5000)">A1</text>
<text x="0" y="0" font-family="Liberation Sans" font-size="27.33" stroke="#000" stroke-width="0.45" transform="matrix(0.9404,0.0000,0.0000,1.0000,1428.8228,876.0000)">X1</text>
<text x="0" y="0" font-family="Liberation Sans" font-size="26.60" stroke="#000" stroke-width="0.45" transform="matrix(0.9265,0.0000,0.0000,1.0000,1408.4585,913.0000)">Y1</text>
<text x="0" y="0" font-family="Liberation Sans" font-size="28.49" stroke="#000" stroke-width="0.45" transform="matrix(0.0000,-0.9263,1.0000,0.0000,1350.6000,1211.9515)">A2</text>
<text x="0" y="0" font-family="Liberation Sans" font-size="28.63" stroke="#000" stroke-width="0.45" transform="matrix(0.0000,-0.9107,1.0000,0.0000,1391.0000,1192.7857)">X2</text>
<text x="0" y="0" font-family="Liberation Sans" font-size="28.63" stroke="#000" stroke-width="0.45" transform="matrix(0.0000,-0.9407,1.0000,0.0000,1427.5000,1172.1919)">Y2</text>
</svg></body></html>
